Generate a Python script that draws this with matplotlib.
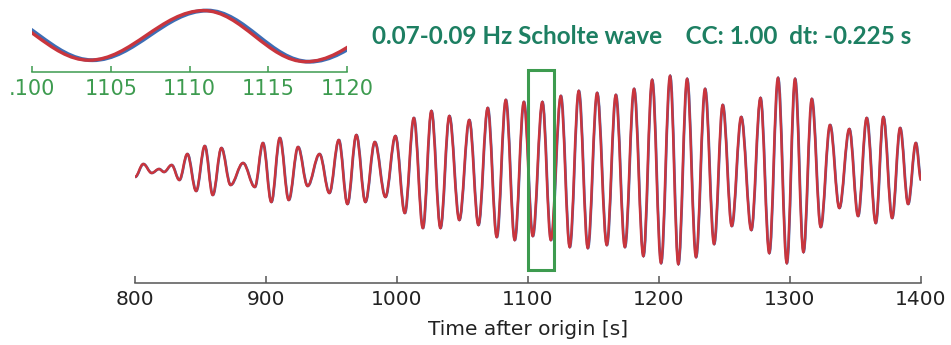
# Scholte wave trace (0.07-0.09 Hz) with a zoomed inset of the 1100-1120 s window
import matplotlib
matplotlib.use("Agg")
import matplotlib.pyplot as plt
from matplotlib.path import Path
from matplotlib.patches import PathPatch, Rectangle
from matplotlib.transforms import Affine2D

# Peaks and troughs of the trace (time in s, relative amplitude)
peak_times = [800.0, 806.3, 812.7, 818.3, 822.1, 827.9, 833.8, 839.9, 846.6, 853.2,
              859.3, 865.9, 872.9, 882.4, 891.4, 897.6, 904.0, 910.5, 917.3, 924.4,
              931.7, 940.8, 948.3, 955.5, 962.1, 968.9, 975.8, 983.0, 991.1, 998.7,
              1005.9, 1012.8, 1019.7, 1026.2, 1033.1, 1039.9, 1047.5, 1055.1, 1062.1, 1069.2,
              1076.1, 1083.0, 1089.8, 1096.8, 1103.6, 1110.9, 1117.4, 1125.0, 1131.8, 1138.7,
              1145.6, 1152.7, 1160.1, 1167.0, 1173.9, 1180.9, 1188.0, 1194.7, 1201.5, 1208.4,
              1214.7, 1221.4, 1228.2, 1235.1, 1242.0, 1248.6, 1255.5, 1262.7, 1270.4, 1277.4,
              1284.1, 1290.8, 1297.5, 1303.8, 1310.2, 1316.6, 1323.4, 1330.5, 1337.6, 1345.2,
              1351.9, 1358.5, 1365.4, 1371.2, 1377.9, 1384.0, 1390.1, 1396.0, 1400.0]
peak_values = [-0.07, 0.06, -0.03, 0.01, -0.02, 0.05, -0.10, 0.16, -0.21, 0.24,
               -0.25, 0.22, -0.15, 0.07, -0.17, 0.27, -0.32, 0.32, -0.30, 0.23,
               -0.16, 0.16, -0.23, 0.30, -0.34, 0.35, -0.32, 0.28, -0.27, 0.34,
               -0.43, 0.52, -0.58, 0.59, -0.58, 0.54, -0.50, 0.50, -0.55, 0.62,
               -0.67, 0.70, -0.70, 0.68, -0.66, 0.68, -0.70, 0.74, -0.77, 0.79,
               -0.78, 0.77, -0.75, 0.75, -0.77, 0.81, -0.86, 0.90, -0.93, 0.94,
               -0.94, 0.91, -0.87, 0.81, -0.74, 0.65, -0.56, 0.53, -0.60, 0.72,
               -0.83, 0.92, -0.93, 0.91, -0.82, 0.71, -0.57, 0.45, -0.38, 0.41,
               -0.46, 0.52, -0.53, 0.53, -0.48, 0.42, -0.34, 0.27, -0.10]

time_shift = -0.225   # dt from the title
window = [1100, 1120]
main_ticks = [800, 900, 1000, 1100, 1200, 1300, 1400]
inset_ticks = [1100, 1105, 1110, 1115, 1120]
inset_labels = [".100", "1105", "1110", "1115", "1120"]

red = "#c9353d"
blue = "#3d6db5"
green = "#3d9b4f"
teal = "#1d7f62"


def wave_path(times, values, k=0.3642):
    # smooth half-cycles between successive extrema (cubic Bezier pieces)
    verts = [(times[0], values[0])]
    codes = [Path.MOVETO]
    for i in range(1, len(times)):
        step = times[i] - times[i - 1]
        verts += [(times[i - 1] + k * step, values[i - 1]),
                  (times[i] - k * step, values[i]),
                  (times[i], values[i])]
        codes += [Path.CURVE4] * 3
    return Path(verts, codes)


trace = wave_path(peak_times, peak_values)

fig = plt.figure(figsize=(9.51, 3.45), dpi=100)

# main trace
ax = fig.add_axes([135 / 951, 62 / 345, 786 / 951, 223 / 345])
ax.add_patch(PathPatch(trace, fill=False, edgecolor=blue, lw=1.8,
                       transform=Affine2D().translate(-time_shift, 0) + ax.transData))
ax.add_patch(PathPatch(trace, fill=False, edgecolor=red, lw=1.8))
ax.add_patch(Rectangle((window[0], -1.0), window[1] - window[0], 2.0,
                       fill=False, edgecolor=green, lw=2.2, zorder=5))
ax.set_xlim(800, 1400)
ax.set_ylim(-1.13, 1.10)
ax.set_xticks(main_ticks)
ax.set_yticks([])
for side in ["top", "right", "left"]:
    ax.spines[side].set_visible(False)
ax.spines["bottom"].set_color("#555555")
ax.spines["bottom"].set_linewidth(1.1)
ax.tick_params(axis="x", direction="in", length=5, width=1.1, color="#555555",
               labelsize=14.5, labelcolor="#222222", pad=5)
ax.set_xlabel("Time after origin [s]", fontsize=14.5, color="#222222", labelpad=8)

# zoomed inset of the boxed window
ins = fig.add_axes([32.3 / 951, (345 - 71.7) / 345, 314.4 / 951, 66.7 / 345])
ins.add_patch(PathPatch(trace, fill=False, edgecolor=blue, lw=2.8,
                        transform=Affine2D().translate(-time_shift, 0) + ins.transData))
ins.add_patch(PathPatch(trace, fill=False, edgecolor=red, lw=2.4))
ins.set_xlim(window)
ins.set_ylim(-0.97, 0.83)
ins.set_xticks(inset_ticks)
ins.set_xticklabels(inset_labels)
ins.set_yticks([])
ins.patch.set_visible(False)
for side in ["top", "right", "left"]:
    ins.spines[side].set_visible(False)
ins.spines["bottom"].set_color(green)
ins.spines["bottom"].set_linewidth(1.1)
ins.tick_params(axis="x", direction="in", length=4, width=1.1, color=green,
                labelsize=15, labelcolor=green, pad=5)

fig.text(642 / 951, 1 - 37 / 345,
         "0.07-0.09 Hz Scholte wave    CC: 1.00  dt: -0.225 s",
         ha="center", va="center", fontsize=17.5, fontweight="bold",
         family="Lato", color=teal)

fig.savefig("out.png", dpi=100)
